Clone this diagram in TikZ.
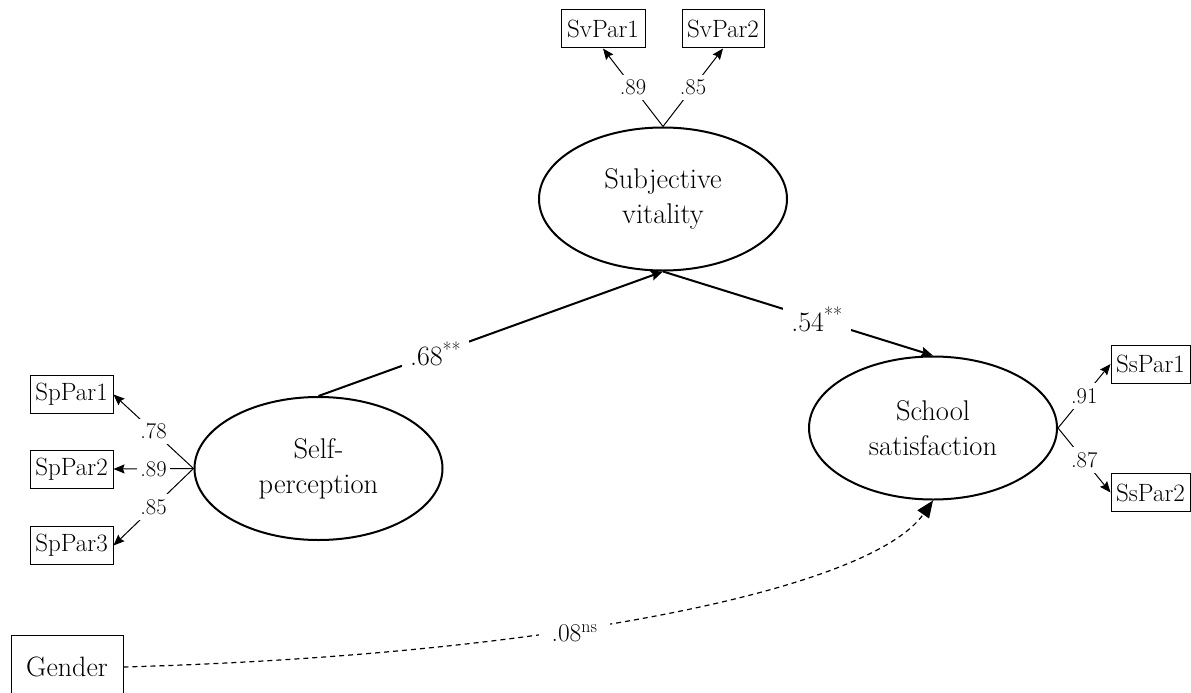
\documentclass[tikz,border=0pt]{standalone}
\usepackage{fontspec}
\usetikzlibrary{arrows.meta,shapes.geometric}
\begin{document}
\begin{tikzpicture}[x=1pt,y=-1pt,
  latent/.style={ellipse,draw,line width=2pt,minimum width=248pt,minimum height=143pt,inner sep=0pt,align=center,font=\fontsize{28.5}{35}\selectfont},
  obs/.style={draw,line width=1pt,minimum height=38pt,inner sep=0pt,font=\fontsize{25}{28}\selectfont},
  load/.style={line width=1pt,-{Stealth[length=11pt,width=9pt,inset=1.5pt]}},
  spath/.style={line width=2pt,-{Stealth[length=12pt,width=10pt,inset=2pt]}},
  lab/.style={fill=white,inner xsep=3pt,inner ysep=5pt,font=\fontsize{22.5}{25}\selectfont},
  biglab/.style={fill=white,inner xsep=8pt,inner ysep=5pt,font=\fontsize{28}{32}\selectfont},
  glab/.style={fill=white,inner xsep=13pt,inner ysep=3pt,font=\fontsize{25.5}{28}\selectfont}]
\useasboundingbox (0,0) rectangle (1191,693);
\clip (0,0) rectangle (1191,693);

% latent variables
\node[latent] (sv) at (663,199) {Subjective\\vitality};
\node[latent] (sp) at (318.5,468.5) {Self-\\perception};
\node[latent] (ss) at (933,428) {School\\satisfaction};

% indicators
\node[obs,minimum width=84pt] (sv1) at (603,29) {SvPar1};
\node[obs,minimum width=82pt] (sv2) at (723,29) {SvPar2};
\node[obs,minimum width=83pt] (sp1) at (71.5,394.5) {SpPar1};
\node[obs,minimum width=83pt] (sp2) at (71.5,469) {SpPar2};
\node[obs,minimum width=83pt] (sp3) at (71.5,545.5) {SpPar3};
\node[obs,minimum width=79pt] (ss1) at (1150.5,364) {SsPar1};
\node[obs,minimum width=79pt] (ss2) at (1150.5,492.5) {SsPar2};
\node[obs,minimum width=112pt,minimum height=64pt,font=\fontsize{28}{30}\selectfont] (gen) at (67,667) {Gender};

% loadings
\draw[load] (sv.north) -- node[lab]{.89} (sv1.south);
\draw[load] (sv.north) -- node[lab]{.85} (sv2.south);
\draw[load] (sp.west) -- node[lab]{.78} (sp1.east);
\draw[load] (sp.west) -- node[lab,inner ysep=2pt]{.89} (sp2.east);
\draw[load] (sp.west) -- node[lab]{.85} (sp3.east);
\draw[load] (ss.east) -- node[lab]{.91} (ss1.west);
\draw[load] (ss.east) -- node[lab]{.87} (ss2.west);

% structural paths
\draw[spath] (sp.north) -- node[biglab,pos=0.34]{.68\textsuperscript{**}} (sv.south);
\draw[spath] (sv.south) -- node[biglab,pos=0.57]{.54\textsuperscript{**}} (ss.north);
\draw[line width=1.2pt,dash pattern=on 5pt off 4pt,-{Triangle[length=17pt,width=14pt]}]
  (gen.east) .. controls (550,655) and (870,590) .. node[glab,pos=0.4,yshift=-4pt]{.08\textsuperscript{ns}} (ss.south);
\end{tikzpicture}
\end{document}
